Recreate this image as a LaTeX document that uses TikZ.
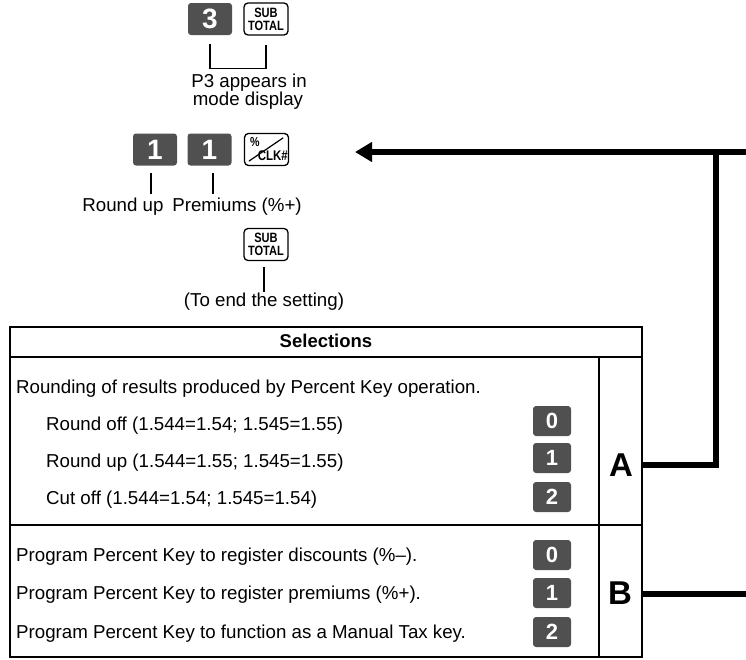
\documentclass[tikz,border=0pt]{standalone}
\usepackage{fontspec}
\setmainfont{Liberation Sans}
\newfontfamily\condfont[FakeStretch=0.82]{Liberation Sans}
\usetikzlibrary{arrows.meta}
\definecolor{keygray}{HTML}{505050}
\begin{document}
\begin{tikzpicture}[x=1pt,y=-1pt,
  txt/.style={font=\fontsize{18.7}{18.7}\selectfont, inner sep=0, anchor=base west},
  ctxt/.style={font=\fontsize{18.7}{18.7}\selectfont, inner sep=0, anchor=base},
  numkey/.style={fill=keygray, rounded corners=3pt, text=white, font=\bfseries\fontsize{22}{22}\selectfont, minimum width=38pt, minimum height=30pt, inner sep=0},
  bigkey/.style={numkey, minimum width=44pt, minimum height=32pt, font=\bfseries\fontsize{28}{28}\selectfont},
  fnkey/.style={draw, line width=1.3pt, rounded corners=4pt, minimum width=44pt, minimum height=32pt, inner sep=0, align=center, font=\condfont\bfseries\fontsize{13.5}{13}\selectfont},
  thin/.style={line width=1.2pt},
  grid/.style={line width=2.2pt},
  inner/.style={line width=1.8pt},
  conn/.style={line width=5.5pt},
  letter/.style={font=\bfseries\fontsize{33}{33}\selectfont, inner sep=0}
]
\useasboundingbox (0,0) rectangle (746,659);

% --- top: 3 SUBTOTAL
\node[bigkey] (k3) at (210,19) {3};
\node[fnkey] (st1) at (266,19) {SUB\\TOTAL};
\draw[thin] ([yshift=-9pt]k3.south) -- ++(0,24) -| ([yshift=-9pt]st1.south);
\node[ctxt] (p3a) at (249,87) {P3 appears in};
\node[ctxt] (p3b) at (248,105) {mode display};

% --- 1 1 %/CLK#
\node[bigkey] (k1a) at (155,149.5) {1};
\node[bigkey] (k1b) at (209.5,149.5) {1};
\node[fnkey] (pct) at (266.5,149.5) {};
\draw[line width=1.2pt] ([shift={(5pt,5pt)}]pct.south west) -- ([shift={(-6pt,-5pt)}]pct.north east);
\node[inner sep=0, font=\condfont\bfseries\fontsize{13}{13}\selectfont] (pcts) at ([shift={(11pt,-9pt)}]pct.north west) {\%};
\node[inner sep=0, font=\condfont\bfseries\fontsize{14}{14}\selectfont] (clk) at ([shift={(29pt,-23pt)}]pct.north west) {CLK\#};
\draw[thin] (151,173) -- (151,194);
\draw[thin] (213,173) -- (213,194);
\node[ctxt] (lru) at (123,211) {Round up};
\node[ctxt] (lpr) at (237,211) {Premiums (\%+)};

% --- SUBTOTAL end
\node[fnkey] (st2) at (266,244.5) {SUB\\TOTAL};
\draw[thin] (264,267) -- (264,292);
\node[ctxt] (lend) at (264,306) {(To end the setting)};

% --- table
\draw[grid] (10,327) rectangle (642,657);
\draw[grid] (10,357) -- (642,357);
\draw[inner] (599,357) -- (599,657);
\draw[inner] (10,525) -- (642,525);
\node[inner sep=0, anchor=base, font=\bfseries\fontsize{18.5}{18.5}\selectfont] (hdr) at (326,347) {Selections};

\node[txt] (ra) at (16,393) {Rounding of results produced by Percent Key operation.};
\node[txt] (r1) at (46,430) {Round off (1.544=1.54; 1.545=1.55)};
\node[txt] (r2) at (46,467) {Round up (1.544=1.55; 1.545=1.55)};
\node[txt] (r3) at (46,504) {Cut off (1.544=1.54; 1.545=1.54)};
\node[numkey] (a0) at (552,421) {0};
\node[numkey] (a1) at (552,458) {1};
\node[numkey] (a2) at (552,497) {2};
\node[letter] (A) at (621,465) {A};

\node[txt] (b1) at (16,561) {Program Percent Key to register discounts (\%--).};
\node[txt] (b2) at (16,599) {Program Percent Key to register premiums (\%+).};
\node[txt] (b3) at (16,638) {Program Percent Key to function as a Manual Tax key.};
\node[numkey] (b0k) at (552,555) {0};
\node[numkey] (b1k) at (552,593) {1};
\node[numkey] (b2k) at (552,632) {2};
\node[letter] (B) at (620,593) {B};

% --- connectors
\coordinate (aEnd) at (642,465);
\coordinate (jct) at (716,152);
\coordinate (topR) at (747,152);
\coordinate (tip) at (355,152);
\coordinate (bEnd) at (642,594);
\coordinate (bR) at (747,594);
\draw[conn] (aEnd) -| (jct);
\draw[conn, -{Triangle[length=17pt,width=19pt]}] (topR) -- (tip);
\draw[conn] (bEnd) -- (bR);
\end{tikzpicture}
\end{document}
